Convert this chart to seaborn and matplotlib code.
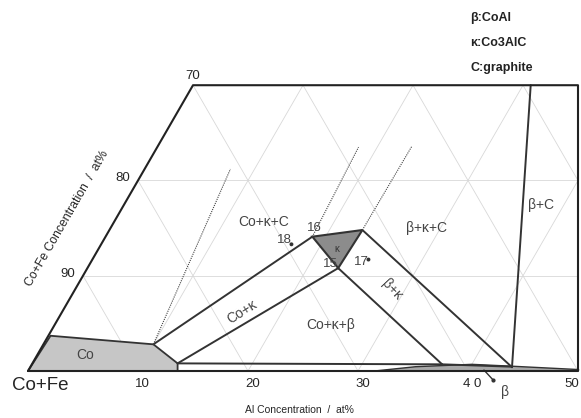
import numpy as np
import pandas as pd
import matplotlib
matplotlib.use("Agg")
import matplotlib.pyplot as plt
import seaborn as sns

sns.set_style("white")
plt.rcParams['font.family'] = ['Liberation Sans', 'DejaVu Sans']

# compositions in at% : (Al, C), Co+Fe is the rest
outline_al = [0, 50, 35, 0, 0]
outline_c = [0, 0, 30, 30, 0]

co_region_al = [0, 0.2, 10, 13.2, 13.6]
co_region_c = [0, 3.7, 2.8, 0.8, 0]

kappa_al = [18.8, 23.0, 22.8]
kappa_c = [14.1, 14.8, 10.8]

beta_al = [31.5, 35, 40, 43.8, 50, 50]
beta_c = [0, 0.45, 0.7, 0.5, 0.15, 0]

# phase boundaries (start, end) as (Al, C)
boundaries = [
    ((10, 2.8), (18.8, 14.1)),
    ((13.2, 0.8), (22.8, 10.8)),
    ((22.8, 10.8), (37.3, 0.7)),
    ((23.0, 14.8), (43.8, 0.4)),
    ((43.8, 0.4), (30.7, 30)),
    ((13.2, 0.8), (37.3, 0.7)),
    ((37.3, 0.7), (43.8, 0.45)),
]
dotted = [
    ((10, 2.8), (7.8, 21.2)),
    ((18.8, 14.1), (18.3, 23.5)),
    ((23.0, 14.8), (23.1, 23.6)),
]

samples = ["18", "17"]
sample_al = [17.3, 25.1]
sample_c = [13.3, 11.7]

tick_al = [10, 20, 30, 40, 50]
tick_al_labels = ["10", "20", "30", "4 0", "50"]
tick_cofe = [70, 80, 90]


def tern(al, c):
    al = np.asarray(al, float)
    c = np.asarray(c, float)
    return al + c / 2, c * np.sqrt(3) / 2


fig = plt.figure(figsize=(5.81, 4.18), dpi=100)
ax = fig.add_axes([0, 0, 1, 1])
ax.set_xlim(-28 / 11, 553 / 11)
ax.set_ylim((371 - 418) / 11, 371 / 11)
ax.set_aspect("equal")
ax.axis("off")

grid = dict(color="#d8d8d8", lw=0.6, zorder=1)
# constant C
for c in [10, 20]:
    x, y = tern([0, 50 - c / 2], [c, c])
    ax.plot(x, y, **grid)
# constant Al
for a in [10, 20, 30, 40]:
    cmax = min(30, 2 * (50 - a))
    x, y = tern([a, a], [0, cmax])
    ax.plot(x, y, **grid)
# constant Co+Fe
for k in [90, 80, 70, 60, 50, 40]:
    s = 100 - k
    c0 = min(30, s)
    a_lo = s - c0
    c1 = max(0, 2 * (s - 50))
    x, y = tern([a_lo, s - c1], [c0, c1])
    ax.plot(x, y, **grid)

# filled regions
x, y = tern(co_region_al, co_region_c)
ax.fill(x, y, facecolor="#c6c6c6", edgecolor="#333333", lw=1.3, zorder=2)
x, y = tern(kappa_al, kappa_c)
ax.fill(x, y, facecolor="#8c8c8c", edgecolor="#333333", lw=1.5, zorder=2)
x, y = tern(beta_al, beta_c)
ax.fill(x, y, facecolor="#a8a8a8", edgecolor="#333333", lw=1.0, zorder=2)

for (p0, p1) in boundaries:
    x, y = tern([p0[0], p1[0]], [p0[1], p1[1]])
    sns.lineplot(x=x, y=y, ax=ax, color="#333333", lw=1.4, sort=False,
                 estimator=None, zorder=3)
for (p0, p1) in dotted:
    x, y = tern([p0[0], p1[0]], [p0[1], p1[1]])
    sns.lineplot(x=x, y=y, ax=ax, color="#444444", lw=0.8, ls=(0, (1, 1)),
                 sort=False, estimator=None, zorder=3)

x, y = tern(outline_al, outline_c)
ax.plot(x, y, color="#222222", lw=1.5, zorder=4)

sx, sy = tern(sample_al, sample_c)
sns.scatterplot(x=sx, y=sy, ax=ax, color="#333333", s=8, edgecolor="none",
                zorder=5, legend=False)

# tick labels
for a, lab in zip(tick_al, tick_al_labels):
    xa = a + 0.4 if a < 50 else 49.4
    ax.text(xa, -1.15, lab, ha="center", va="center", fontsize=9.5)
for k in tick_cofe:
    x, y = tern(0, 100 - k)
    if k == 70:
        ax.text(x, y + 0.85, str(k), ha="center", va="center", fontsize=9.5)
    else:
        ax.text(x - 1.35, y + 0.2, str(k), ha="center", va="center", fontsize=9.5)

ax.text(1.1, -1.35, "Co+Fe", ha="center", va="center", fontsize=13.5)
ax.text(24.7, -3.55, "Al Concentration  /  at%", ha="center", va="center",
        fontsize=7.5)
ax.text(3.6, 13.9, "Co+Fe Concentration  /  at%", ha="center", va="center",
        fontsize=8.8, rotation=60)

lab = dict(ha="center", va="center", fontsize=10, color="#444444")
ax.text(5.2, 1.45, "Co", **lab)
ax.text(19.5, 5.4, "Co+κ", rotation=32, **lab)
ax.text(21.4, 13.5, "Co+κ+C", **lab)
ax.text(36.2, 13.0, "β+κ+C", **lab)
ax.text(33.1, 7.4, "β+κ", rotation=-47, **lab)
ax.text(27.5, 4.2, "Co+κ+β", **lab)
ax.text(46.6, 15.1, "β+C", **lab)
ax.text(43.4, -1.9, "β", **lab)
ax.text(28.1, 11.1, "κ", ha="center", va="center", fontsize=7, color="#333333")

for name, txt_xy in zip(["18", "16", "15", "17"],
                        [(23.3, 11.9), (26.0, 13.0), (27.5, 9.7), (30.3, 9.9)]):
    ax.text(txt_xy[0], txt_xy[1], name, ha="center", va="center", fontsize=9.5,
            color="#444444")

# leader for beta
bx, by = tern([41.4, 42.7], [0.1, -0.9])
ax.plot(bx, by, color="#333333", lw=1.0)
ax.plot(bx[1], by[1], "o", color="#333333", ms=2)

leg = dict(ha="left", va="center", fontsize=9, color="#222222",
           fontweight="bold")
ax.text(40.2, 32.1, "β:CoAl", **leg)
ax.text(40.2, 29.8, "κ:Co3AlC", **leg)
ax.text(40.2, 27.5, "C:graphite", **leg)

fig.savefig("out.png", dpi=100)
